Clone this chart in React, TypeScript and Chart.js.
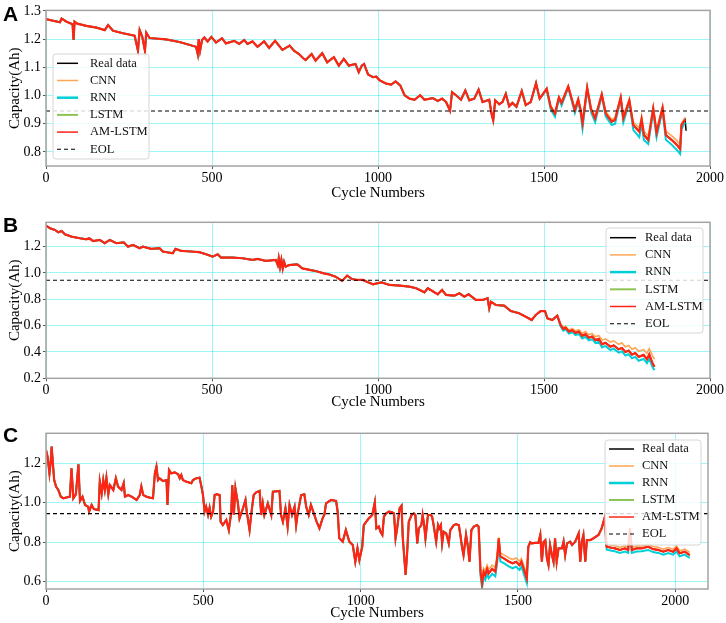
import React, { useEffect, useRef } from 'react';
import { Chart, registerables } from 'chart.js';

Chart.register(...registerables);

type Pt = [number, number];

// ---------- values: panel A ----------
const realHeadA: Pt[] = [
  [0, 1.271], [42, 1.26], [47, 1.273], [62, 1.262], [80, 1.253], [83, 1.197], [86, 1.262], [94, 1.255],
  [122, 1.247], [152, 1.241], [177, 1.232], [187, 1.25], [202, 1.23], [232, 1.221], [267, 1.212], [277, 1.159],
  [282, 1.232], [290, 1.208], [298, 1.159], [302, 1.223], [312, 1.204], [362, 1.199], [402, 1.19], [452, 1.173],
  [457, 1.147], [460, 1.2], [464, 1.159], [470, 1.197], [477, 1.206], [487, 1.192], [498, 1.208], [512, 1.188],
  [530, 1.203], [542, 1.185], [567, 1.194], [582, 1.183], [597, 1.197], [607, 1.183], [622, 1.192], [637, 1.173],
  [657, 1.192], [672, 1.169], [690, 1.194], [712, 1.162], [734, 1.177], [747, 1.159], [762, 1.147], [774, 1.133],
  [782, 1.126], [800, 1.147], [812, 1.124], [832, 1.15], [847, 1.118], [867, 1.136], [882, 1.106], [897, 1.13],
  [912, 1.106], [932, 1.112], [942, 1.083], [951, 1.106], [958, 1.112], [970, 1.075], [985, 1.065], [995, 1.067],
  [1005, 1.054], [1025, 1.042], [1040, 1.039], [1053, 1.05], [1067, 1.036], [1080, 1.001], [1095, 0.989],
  [1110, 0.985], [1127, 1.001], [1140, 0.985], [1165, 0.991], [1180, 0.981], [1193, 0.989], [1205, 0.977],
  [1217, 0.946], [1223, 1.012], [1235, 1.001], [1250, 0.985], [1263, 1.018], [1275, 0.983], [1290, 0.989],
  [1303, 1.021], [1315, 0.977], [1335, 0.985], [1343, 0.93], [1347, 0.912], [1353, 0.983], [1365, 0.969],
  [1375, 0.977], [1385, 1.006], [1395, 0.962], [1405, 0.974], [1417, 0.96], [1433, 1.016], [1445, 0.966],
  [1460, 0.977], [1476, 1.044], [1487, 0.989],
];
const realTailA: Pt[] = [
  [1508, 1.024], [1520, 0.96], [1533, 0.936], [1545, 0.993], [1553, 0.974], [1573, 1.032], [1593, 0.948],
  [1603, 0.986], [1610, 0.95], [1616, 0.901], [1630, 1.028], [1642, 0.95], [1654, 0.919], [1674, 1.004],
  [1686, 0.936], [1704, 0.907], [1714, 0.914], [1731, 0.993], [1739, 0.919], [1757, 0.983], [1769, 0.895],
  [1787, 0.872], [1794, 0.916], [1801, 0.86], [1814, 0.842], [1829, 0.954], [1839, 0.868], [1857, 0.957],
  [1867, 0.86], [1885, 0.842], [1900, 0.825], [1910, 0.81], [1914, 0.895], [1925, 0.915], [1928, 0.875],
];
const cnnTailA: Pt[] = [
  [1508, 1.026], [1520, 0.964], [1533, 0.94], [1545, 0.995], [1553, 0.978], [1573, 1.034], [1593, 0.953],
  [1603, 0.99], [1610, 0.955], [1616, 0.908], [1630, 1.03], [1642, 0.956], [1654, 0.926], [1674, 1.006],
  [1686, 0.943], [1704, 0.915], [1714, 0.922], [1731, 0.996], [1739, 0.928], [1757, 0.986], [1769, 0.905],
  [1787, 0.885], [1794, 0.925], [1801, 0.873], [1814, 0.856], [1829, 0.958], [1839, 0.88], [1857, 0.96],
  [1867, 0.874], [1885, 0.857], [1900, 0.84], [1910, 0.826], [1914, 0.902], [1925, 0.922],
];
const rnnTailA: Pt[] = [
  [1508, 1.02], [1520, 0.952], [1533, 0.925], [1545, 0.988], [1553, 0.965], [1573, 1.028], [1593, 0.938],
  [1603, 0.978], [1610, 0.94], [1616, 0.883], [1630, 1.022], [1642, 0.94], [1654, 0.906], [1674, 0.998],
  [1686, 0.925], [1704, 0.895], [1714, 0.9], [1731, 0.987], [1739, 0.905], [1757, 0.975], [1769, 0.878],
  [1787, 0.852], [1794, 0.9], [1801, 0.842], [1814, 0.828], [1829, 0.945], [1839, 0.852], [1857, 0.948],
  [1867, 0.843], [1885, 0.825], [1900, 0.807], [1910, 0.793], [1914, 0.88], [1925, 0.905],
];

// ---------- panel B ----------
const realHeadB: Pt[] = [
  [0, 1.36], [12, 1.34], [27, 1.327], [37, 1.309], [47, 1.319], [57, 1.294], [77, 1.276], [102, 1.264],
  [122, 1.256], [130, 1.264], [142, 1.243], [162, 1.251], [177, 1.226], [192, 1.251], [212, 1.226], [234, 1.233],
  [247, 1.2], [262, 1.213], [282, 1.188], [292, 1.2], [317, 1.183], [342, 1.188], [352, 1.163], [382, 1.15],
  [390, 1.183], [407, 1.168], [437, 1.163], [462, 1.158], [482, 1.142], [502, 1.124], [517, 1.142], [527, 1.117],
  [562, 1.117], [592, 1.112], [622, 1.099], [637, 1.107], [662, 1.092], [692, 1.099], [698, 1.06], [701, 1.112],
  [705, 1.045], [709, 1.1], [713, 1.035], [717, 1.085], [722, 1.048], [732, 1.06], [757, 1.066], [772, 1.035],
  [797, 1.022], [812, 1.015], [837, 0.997], [852, 0.99], [872, 0.972], [892, 0.94], [907, 0.98], [922, 0.954],
  [937, 0.947], [955, 0.947], [970, 0.929], [985, 0.914], [1010, 0.929], [1035, 0.909], [1065, 0.904],
  [1095, 0.896], [1115, 0.884], [1140, 0.853], [1150, 0.884], [1180, 0.838], [1193, 0.871], [1205, 0.833],
  [1230, 0.828], [1245, 0.846], [1260, 0.82], [1273, 0.838], [1295, 0.795], [1315, 0.795], [1330, 0.808],
  [1335, 0.732], [1340, 0.782], [1355, 0.757], [1380, 0.752], [1400, 0.711], [1425, 0.694], [1445, 0.668],
  [1463, 0.643], [1475, 0.681], [1490, 0.711], [1503, 0.711], [1510, 0.656], [1525, 0.643], [1540, 0.676],
];
const realTailB: Pt[] = [
  [1550, 0.605], [1558, 0.575], [1565, 0.585], [1575, 0.555], [1585, 0.565], [1595, 0.545], [1605, 0.555],
  [1615, 0.522], [1625, 0.535], [1635, 0.508], [1645, 0.518], [1655, 0.49], [1665, 0.5], [1675, 0.458],
  [1685, 0.47], [1700, 0.44], [1710, 0.45], [1725, 0.42], [1735, 0.43], [1745, 0.4], [1755, 0.41], [1765, 0.38],
  [1775, 0.392], [1785, 0.363], [1800, 0.378], [1810, 0.345], [1817, 0.382], [1827, 0.314], [1833, 0.288],
];
const cnnTailB: Pt[] = [
  [1550, 0.61], [1558, 0.585], [1565, 0.595], [1575, 0.567], [1585, 0.578], [1595, 0.56], [1605, 0.57],
  [1615, 0.54], [1625, 0.555], [1635, 0.53], [1645, 0.54], [1655, 0.515], [1665, 0.525], [1675, 0.49],
  [1685, 0.5], [1700, 0.475], [1710, 0.485], [1725, 0.458], [1735, 0.468], [1745, 0.44], [1755, 0.45],
  [1765, 0.42], [1775, 0.432], [1785, 0.405], [1800, 0.418], [1810, 0.39], [1817, 0.425], [1827, 0.37], [1833, 0.345],
];
const rnnTailB: Pt[] = [
  [1550, 0.595], [1558, 0.562], [1565, 0.572], [1575, 0.54], [1585, 0.55], [1595, 0.528], [1605, 0.538],
  [1615, 0.503], [1625, 0.515], [1635, 0.488], [1645, 0.497], [1655, 0.468], [1665, 0.478], [1675, 0.435],
  [1685, 0.446], [1700, 0.415], [1710, 0.425], [1725, 0.395], [1735, 0.405], [1745, 0.373], [1755, 0.383],
  [1765, 0.352], [1775, 0.363], [1785, 0.333], [1800, 0.347], [1810, 0.315], [1817, 0.35], [1827, 0.283], [1833, 0.262],
];

// ---------- panel C ----------
const realHeadC: Pt[] = [
  [0, 1.268], [5, 1.234], [11, 1.149], [15, 1.208], [18, 1.285], [21, 1.217], [26, 1.115], [32, 1.082],
  [39, 1.065], [47, 1.031], [55, 1.023], [76, 1.031], [81, 1.175], [87, 1.023], [95, 1.043], [103, 1.195],
  [108, 1.009], [116, 1.031], [124, 0.989], [134, 0.98], [137, 0.955], [145, 0.989], [152, 0.968], [167, 0.963],
  [171, 1.107], [177, 1.048], [182, 1.115], [187, 1.065], [192, 1.127], [198, 1.043], [203, 1.09], [214, 1.065],
  [222, 1.124], [229, 1.082], [240, 1.065], [247, 1.099], [251, 1.031], [261, 1.039], [272, 1.031], [288, 1.014],
  [298, 1.039], [303, 1.082], [309, 1.039], [319, 1.031], [330, 1.026], [340, 1.023], [346, 1.149], [351, 1.183],
  [356, 1.115], [361, 1.124], [372, 1.11], [383, 1.115], [386, 0.989], [391, 1.166], [398, 1.149], [409, 1.154],
  [420, 1.144], [425, 1.124], [430, 1.141], [435, 1.115], [446, 1.107], [462, 1.099], [467, 1.115], [478, 1.124],
  [488, 1.127], [494, 1.082], [499, 1.039], [504, 0.955], [509, 0.98], [515, 0.938], [520, 0.975], [525, 0.93],
  [531, 0.955], [536, 1.039], [543, 1.043], [552, 1.039], [555, 0.904], [562, 0.887], [573, 0.913], [581, 0.862],
  [589, 0.955], [592, 1.09], [597, 0.938], [602, 1.073], [610, 0.997], [615, 0.921], [626, 0.972], [634, 1.014],
  [638, 0.955], [647, 0.862], [652, 0.938], [660, 1.039], [668, 1.053], [679, 1.06], [684, 0.938], [689, 0.997],
  [694, 0.938], [705, 0.997], [716, 0.938], [721, 1.056], [742, 1.06], [747, 0.938], [753, 0.904], [761, 0.972],
  [768, 0.879], [774, 0.989], [782, 0.938], [790, 0.98], [795, 0.887], [800, 0.946], [811, 1.039], [821, 1.043],
  [827, 0.98], [835, 0.938], [842, 0.989], [853, 0.938], [860, 0.904], [869, 0.87], [879, 0.921], [885, 0.941],
  [890, 0.997], [906, 1.014], [922, 1.009], [927, 0.955], [932, 0.82], [943, 0.803], [953, 0.862], [964, 0.803],
  [975, 0.786], [983, 0.701], [990, 0.769], [996, 0.71], [1005, 0.777], [1010, 0.887], [1018, 0.904],
  [1026, 0.921], [1037, 0.938], [1045, 1.002], [1050, 0.87], [1058, 0.879], [1063, 0.853], [1069, 0.837],
  [1074, 0.93], [1081, 0.946], [1090, 0.955], [1100, 0.952], [1106, 0.946], [1111, 0.82], [1116, 0.87],
  [1124, 0.972], [1130, 0.985], [1134, 0.82], [1143, 0.634], [1148, 0.752], [1153, 0.904], [1162, 0.938],
  [1169, 0.946], [1174, 0.938], [1180, 0.794], [1185, 0.87], [1193, 0.887], [1197, 0.938], [1202, 0.887],
  [1206, 0.82], [1214, 0.938], [1222, 0.938], [1227, 0.93], [1232, 0.887], [1240, 0.803], [1246, 0.887],
  [1250, 0.87], [1255, 0.887], [1259, 0.794], [1264, 0.853], [1272, 0.845], [1280, 0.794], [1285, 0.862],
  [1296, 0.887], [1303, 0.891], [1312, 0.887], [1317, 0.837], [1322, 0.777], [1327, 0.735], [1335, 0.837],
  [1341, 0.777], [1346, 0.701], [1352, 0.862], [1360, 0.879], [1370, 0.887], [1375, 0.879],
];
const realMid1C: Pt[] = [
  [1381, 0.651], [1386, 0.591], [1391, 0.65], [1396, 0.634], [1402, 0.665], [1407, 0.642], [1418, 0.665],
  [1428, 0.651], [1434, 0.72], [1439, 0.82], [1444, 0.728], [1455, 0.718], [1472, 0.701], [1483, 0.693],
  [1494, 0.701], [1505, 0.684], [1511, 0.701], [1518, 0.667], [1523, 0.642], [1528, 0.617],
];
const cnnMid1C: Pt[] = [
  [1381, 0.665], [1386, 0.612], [1391, 0.668], [1396, 0.655], [1402, 0.684], [1407, 0.662], [1418, 0.684],
  [1428, 0.672], [1434, 0.735], [1439, 0.825], [1444, 0.745], [1455, 0.736], [1472, 0.72], [1483, 0.712],
  [1494, 0.72], [1505, 0.704], [1511, 0.718], [1518, 0.686], [1523, 0.662], [1528, 0.638],
];
const rnnMid1C: Pt[] = [
  [1381, 0.63], [1386, 0.568], [1391, 0.625], [1396, 0.61], [1402, 0.64], [1407, 0.618], [1418, 0.64],
  [1428, 0.627], [1434, 0.697], [1439, 0.808], [1444, 0.703], [1455, 0.694], [1472, 0.676], [1483, 0.668],
  [1494, 0.676], [1505, 0.66], [1511, 0.676], [1518, 0.643], [1523, 0.618], [1528, 0.593],
];
const realMid2C: Pt[] = [
  [1533, 0.777], [1539, 0.8], [1544, 0.794], [1555, 0.797], [1565, 0.797], [1571, 0.838], [1576, 0.701],
  [1581, 0.8], [1587, 0.81], [1592, 0.718], [1597, 0.684], [1602, 0.786], [1608, 0.735], [1613, 0.701],
  [1618, 0.82], [1623, 0.701], [1629, 0.769], [1640, 0.769], [1645, 0.803], [1650, 0.735], [1656, 0.794],
  [1666, 0.803], [1672, 0.786], [1682, 0.803], [1693, 0.845], [1698, 0.701], [1703, 0.803], [1708, 0.837],
  [1714, 0.701], [1719, 0.811], [1730, 0.811], [1740, 0.82], [1756, 0.837], [1766, 0.87], [1775, 0.921],
];
const realEndC: Pt[] = [
  [1782, 0.777], [1798, 0.772], [1808, 0.769], [1824, 0.761], [1840, 0.769], [1850, 0.761], [1856, 0.87],
  [1862, 0.761], [1877, 0.769], [1893, 0.769], [1914, 0.777], [1930, 0.765], [1946, 0.761], [1962, 0.752],
  [1978, 0.761], [1993, 0.752], [2004, 0.769], [2014, 0.744], [2030, 0.752], [2046, 0.735],
];
const cnnEndC: Pt[] = [
  [1782, 0.79], [1798, 0.785], [1808, 0.782], [1824, 0.774], [1840, 0.781], [1850, 0.774], [1856, 0.875],
  [1862, 0.774], [1877, 0.782], [1893, 0.781], [1914, 0.789], [1930, 0.778], [1946, 0.774], [1962, 0.765],
  [1978, 0.773], [1993, 0.765], [2004, 0.781], [2014, 0.757], [2030, 0.765], [2046, 0.748],
];
const rnnEndC: Pt[] = [
  [1782, 0.762], [1798, 0.757], [1808, 0.754], [1824, 0.746], [1840, 0.753], [1850, 0.746], [1856, 0.855],
  [1862, 0.746], [1877, 0.753], [1893, 0.754], [1914, 0.761], [1930, 0.75], [1946, 0.746], [1962, 0.737],
  [1978, 0.745], [1993, 0.737], [2004, 0.753], [2014, 0.729], [2030, 0.737], [2046, 0.72],
];

// ---------- axes ----------
const xTicks = [0, 500, 1000, 1500, 2000];
const yTicksA = [0.8, 0.9, 1.0, 1.1, 1.2, 1.3];
const yTicksB = [0.2, 0.4, 0.6, 0.8, 1.0, 1.2];
const yTicksC = [0.6, 0.8, 1.0, 1.2];
const eolCapacity = 0.945;

const SERIF = "'Liberation Serif', 'Times New Roman', serif";

const styles = [
  { label: 'Real data', color: '#000000', width: 1.5, dash: [] as number[], legendWidth: 1.5 },
  { label: 'CNN', color: '#ffa654', width: 1.6, dash: [], legendWidth: 1.5 },
  { label: 'RNN', color: '#00cfd8', width: 2, dash: [], legendWidth: 2.5 },
  { label: 'LSTM', color: '#8ec456', width: 1.6, dash: [], legendWidth: 2 },
  { label: 'AM-LSTM', color: '#ff2414', width: 2.2, dash: [], legendWidth: 1.5 },
  { label: 'EOL', color: '#000000', width: 1.1, dash: [4, 3], legendWidth: 1.1 },
];

interface PanelCfg {
  letter: string;
  top: number;
  height: number;
  series: Pt[][]; // real, cnn, rnn, lstm, am-lstm
  xMax: number;
  yMin: number;
  yMax: number;
  yTicks: number[];
  area: { top: number; right: number; axisH: number };
  titlePad: number;
  letterY: number;
  legend: { x: number; y: number; w: number; h: number; row0: number; step: number; h0: number; h1: number; tx: number };
}

const panels: PanelCfg[] = [
  {
    letter: 'A', top: 0, height: 205,
    series: [
      [...realHeadA, ...realTailA],
      [...realHeadA, ...cnnTailA],
      [...realHeadA, ...rnnTailA],
      [...realHeadA, ...realTailA.slice(0, -1)],
      [...realHeadA, ...realTailA.slice(0, -1)],
    ],
    xMax: 2000, yMin: 0.75, yMax: 1.302, yTicks: yTicksA,
    area: { top: 9.5, right: 16, axisH: 39 }, titlePad: 3, letterY: 21,
    legend: { x: 53, y: 54, w: 96, h: 105, row0: 63.3, step: 17.2, h0: 57, h1: 78, tx: 90 },
  },
  {
    letter: 'B', top: 205, height: 210,
    series: [
      [...realHeadB, ...realTailB],
      [...realHeadB, ...cnnTailB],
      [...realHeadB, ...rnnTailB],
      [...realHeadB, ...realTailB],
      [...realHeadB, ...realTailB],
    ],
    xMax: 2000, yMin: 0.2, yMax: 1.385, yTicks: yTicksB,
    area: { top: 17.3, right: 16, axisH: 36.7 }, titlePad: 4, letterY: 27,
    legend: { x: 606, y: 23, w: 97, h: 105, row0: 32.7, step: 17.2, h0: 610, h1: 636, tx: 645 },
  },
  {
    letter: 'C', top: 415, height: 208,
    series: [
      [...realHeadC, ...realMid1C, ...realMid2C, ...realEndC],
      [...realHeadC, ...cnnMid1C, ...realMid2C, ...cnnEndC],
      [...realHeadC, ...rnnMid1C, ...realMid2C, ...rnnEndC],
      [...realHeadC, ...realMid1C, ...realMid2C, ...realEndC],
      [...realHeadC, ...realMid1C, ...realMid2C, ...realEndC],
    ],
    xMax: 2104, yMin: 0.563, yMax: 1.352, yTicks: yTicksC,
    area: { top: 18.3, right: 18, axisH: 34 }, titlePad: 1, letterY: 27,
    legend: { x: 605, y: 25, w: 96, h: 105, row0: 34, step: 17, h0: 609, h1: 634, tx: 642 },
  },
];

const toXY = (pts: Pt[]) => pts.map(([x, y]) => ({ x, y }));

function Panel({ cfg }: { cfg: PanelCfg }) {
  const canvasRef = useRef<HTMLCanvasElement>(null);

  useEffect(() => {
    if (!canvasRef.current) return;

    const gridColor = 'rgba(0, 230, 235, 0.38)';

    const framePlugin = {
      id: 'frameAndLegend',
      afterDraw(chart: Chart) {
        const { ctx, chartArea: a } = chart;
        ctx.save();
        ctx.strokeStyle = '#a3a3a3';
        ctx.lineWidth = 1.5;
        ctx.strokeRect(a.left, a.top, a.right - a.left, a.bottom - a.top);

        // legend box
        const L = cfg.legend;
        ctx.fillStyle = 'rgba(255,255,255,0.82)';
        ctx.strokeStyle = '#d6d6d6';
        ctx.lineWidth = 1;
        ctx.beginPath();
        ctx.roundRect(L.x, L.y, L.w, L.h, 3);
        ctx.fill();
        ctx.stroke();
        styles.forEach((s, i) => {
          const y = L.row0 + i * L.step;
          ctx.strokeStyle = s.color;
          ctx.lineWidth = s.legendWidth;
          ctx.setLineDash(s.dash);
          ctx.beginPath();
          ctx.moveTo(L.h0, y);
          ctx.lineTo(L.h1, y);
          ctx.stroke();
          ctx.setLineDash([]);
          ctx.fillStyle = '#111';
          ctx.font = `12.5px ${SERIF}`;
          ctx.textBaseline = 'middle';
          ctx.fillText(s.label, L.tx, y);
        });

        // panel letter
        ctx.fillStyle = '#000';
        ctx.textBaseline = 'alphabetic';
        ctx.font = "bold 21px 'Liberation Sans', Arial, sans-serif";
        ctx.fillText(cfg.letter, 3, cfg.letterY);
        ctx.restore();
      },
    };

    const lines = cfg.series.map((pts, i) => ({
      label: styles[i].label,
      data: toXY(pts),
      borderColor: styles[i].color,
      borderWidth: styles[i].width,
      pointRadius: 0,
      fill: false,
      tension: 0,
      order: 5 - i,
    }));

    const chart = new Chart(canvasRef.current, {
      type: 'line',
      data: {
        datasets: [
          ...lines,
          {
            label: 'EOL',
            data: [{ x: 0, y: eolCapacity }, { x: cfg.xMax, y: eolCapacity }],
            borderColor: '#000',
            borderWidth: 1.1,
            borderDash: [4, 3],
            pointRadius: 0,
            fill: false,
            order: 0,
          },
        ],
      },
      options: {
        animation: false,
        responsive: true,
        maintainAspectRatio: false,
        events: [],
        layout: { padding: { top: cfg.area.top, right: cfg.area.right, left: 0, bottom: 0 } },
        plugins: { legend: { display: false }, tooltip: { enabled: false } },
        scales: {
          x: {
            type: 'linear',
            min: 0,
            max: cfg.xMax,
            afterBuildTicks: (axis: any) => {
              axis.ticks = xTicks.map((value) => ({ value }));
            },
            afterFit: (scale: any) => {
              scale.height = cfg.area.axisH;
            },
            ticks: {
              color: '#000',
              font: { family: SERIF, size: 14 },
              padding: 1,
              maxRotation: 0,
              callback: (v: any) => String(v),
            },
            grid: { color: gridColor, tickColor: '#555', tickLength: 3, lineWidth: 1 },
            border: { display: false },
            title: {
              display: true,
              text: 'Cycle Numbers',
              color: '#000',
              font: { family: SERIF, size: 15 },
              padding: { top: 0, bottom: cfg.titlePad },
            },
          },
          y: {
            type: 'linear',
            min: cfg.yMin,
            max: cfg.yMax,
            afterBuildTicks: (axis: any) => {
              axis.ticks = cfg.yTicks.map((value) => ({ value }));
            },
            afterFit: (scale: any) => {
              scale.width = 46;
            },
            ticks: {
              color: '#000',
              font: { family: SERIF, size: 14 },
              padding: 2,
              callback: (v: any) => Number(v).toFixed(1),
            },
            grid: { color: gridColor, tickColor: '#555', tickLength: 3, lineWidth: 1 },
            border: { display: false },
            title: {
              display: true,
              text: 'Capacity(Ah)',
              color: '#000',
              font: { family: SERIF, size: 15 },
              padding: { top: 6, bottom: 0 },
            },
          },
        },
      },
      plugins: [framePlugin],
    } as any);

    return () => {
      chart.destroy();
    };
  }, [cfg]);

  return (
    <div style={{ position: 'absolute', left: 0, top: cfg.top, width: 726, height: cfg.height }}>
      <canvas ref={canvasRef} />
    </div>
  );
}

export default function App() {
  useEffect(() => {
    document.body.style.margin = '0';
    document.body.style.background = '#fff';
  }, []);

  return (
    <div style={{ position: 'relative', width: 726, height: 623, background: '#fff', overflow: 'hidden' }}>
      {panels.map((p) => (
        <Panel key={p.letter} cfg={p} />
      ))}
    </div>
  );
}
